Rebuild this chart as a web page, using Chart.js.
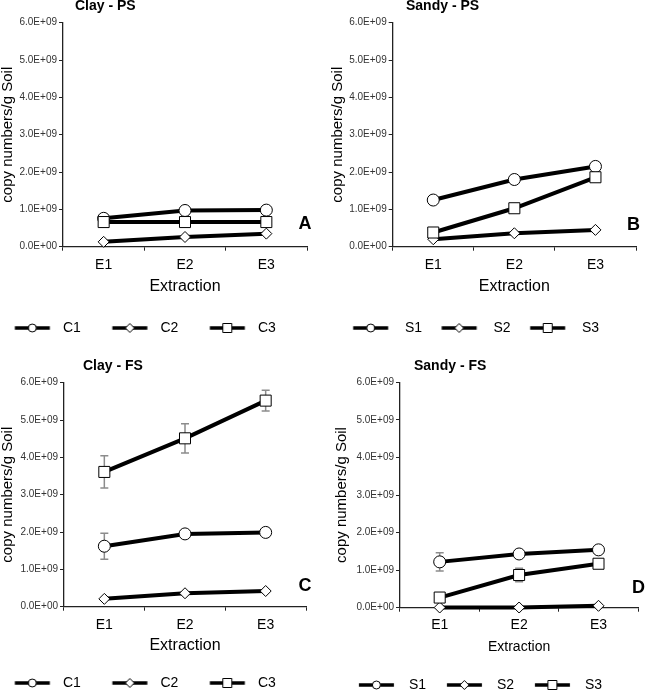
<!DOCTYPE html>
<html><head><meta charset="utf-8">
<script src="https://cdn.jsdelivr.net/npm/chart.js@4.4.1/dist/chart.umd.min.js"></script>
<style>
html,body{margin:0;padding:0;background:#fff;}
#wrap{position:relative;width:647px;height:694px;overflow:hidden;background:#fff;}
canvas{position:absolute;}
</style></head><body>
<div id="wrap">
<canvas id="cA" width="323" height="347" style="left:0;top:0"></canvas>
<canvas id="cB" width="324" height="347" style="left:323px;top:0"></canvas>
<canvas id="cC" width="323" height="347" style="left:0;top:347px"></canvas>
<canvas id="cD" width="324" height="347" style="left:323px;top:347px"></canvas>
</div>
<script>
// ---------- DATA ----------
const categories = ['E1', 'E2', 'E3'];
const yTickLabels = ['0.0E+00', '1.0E+09', '2.0E+09', '3.0E+09', '4.0E+09', '5.0E+09', '6.0E+09'];
const clayLabels = ['C1', 'C2', 'C3'];
const sandyLabels = ['S1', 'S2', 'S3'];
const panelTitles = ['Clay - PS', 'Sandy - PS', 'Clay - FS', 'Sandy - FS'];
const panelLetters = ['A', 'B', 'C', 'D'];
const xAxisTitle = 'Extraction';
const yAxisTitle = 'copy numbers/g Soil';

// Panel A: Clay - PS
const clayPS_C1 = [0.76e9, 0.97e9, 0.98e9];
const clayPS_C2 = [0.13e9, 0.26e9, 0.35e9];
const clayPS_C3 = [0.66e9, 0.66e9, 0.66e9];
// Panel B: Sandy - PS
const sandyPS_S1 = [1.25e9, 1.80e9, 2.15e9];
const sandyPS_S2 = [0.20e9, 0.36e9, 0.45e9];
const sandyPS_S3 = [0.38e9, 1.03e9, 1.86e9];
// Panel C: Clay - FS
const clayFS_C1 = [1.62e9, 1.95e9, 1.99e9];
const clayFS_C2 = [0.21e9, 0.36e9, 0.42e9];
const clayFS_C3 = [3.61e9, 4.51e9, 5.52e9];
const clayFS_C1_err = [0.35e9, 0, 0];
const clayFS_C3_err = [0.43e9, 0.39e9, 0.28e9];
// Panel D: Sandy - FS
const sandyFS_S1 = [1.22e9, 1.43e9, 1.54e9];
const sandyFS_S2 = [0.005e9, 0.005e9, 0.05e9];
const sandyFS_S3 = [0.27e9, 0.87e9, 1.17e9];
const sandyFS_S1_err = [0.24e9, 0, 0];
const sandyFS_S3_err = [0, 0.18e9, 0];

// ---------- STYLE / LAYOUT ----------
const FONT = '"Liberation Sans", Arial, Helvetica, sans-serif';
Chart.defaults.font.family = FONT;
Chart.defaults.color = '#000';
const markerStyles = ['circle', 'rectRot', 'rect'];
const markerRadius = [6, 5.5, 7.8];
const LEG_PAD = 8, LEG_FONT = 14;

const layouts = [
  {W:323,H:347,chartL:63,chartR:307,chartT:22.7,chartB:246.7,yTitleX:8,xTickY:265,xTitleY:287,xTitleSize:16,legendY:328,symStart:15,spacing:97.5,gap:13,titleLeft:75,titleY:6,lx:305,ly:224},
  {W:324,H:347,chartL:69.7,chartR:313,chartT:22.7,chartB:246.7,yTitleX:15,xTickY:265,xTitleY:287,xTitleSize:16,legendY:328,symStart:30,spacing:88.5,gap:17,titleLeft:83,titleY:6,lx:310.5,ly:225},
  {W:323,H:347,chartL:64,chartR:306,chartT:35.7,chartB:259.7,yTitleX:8,xTickY:278,xTitleY:299,xTitleSize:16,legendY:336,symStart:15,spacing:97.5,gap:13,titleLeft:83,titleY:19,lx:305,ly:239},
  {W:324,H:347,chartL:77,chartR:319.7,chartT:35.3,chartB:260.7,yTitleX:19,xTickY:278,xTitleY:300,xTitleSize:14,legendY:338,symStart:36,spacing:88,gap:15,titleLeft:91,titleY:19,lx:315.5,ly:241}
];

const mctx = document.createElement('canvas').getContext('2d');
mctx.font = LEG_FONT + 'px ' + FONT;

function legendImage(styleIdx, boxW, gap) {
  const c = document.createElement('canvas');
  c.width = Math.round(boxW); c.height = 14;
  const g = c.getContext('2d');
  const x1 = boxW + LEG_FONT / 2 - gap, x0 = x1 - 35, cy = 7, cx = (x0 + x1) / 2;
  g.strokeStyle = '#000'; g.lineWidth = 3.5;
  g.beginPath(); g.moveTo(x0, cy); g.lineTo(x1, cy); g.stroke();
  g.fillStyle = '#fff'; g.lineWidth = 1; g.beginPath();
  if (styleIdx === 0) g.arc(cx, cy, 4, 0, Math.PI * 2);
  else if (styleIdx === 1) { g.moveTo(cx, cy - 4.5); g.lineTo(cx + 4.5, cy); g.lineTo(cx, cy + 4.5); g.lineTo(cx - 4.5, cy); g.closePath(); }
  else g.rect(cx - 4.5, cy - 4.5, 9, 9);
  g.fill(); g.stroke();
  return c;
}

const errorBarsPlugin = {
  id: 'errorBars',
  beforeDatasetsDraw(chart) {
    const {ctx, scales: {x, y}} = chart;
    ctx.save();
    ctx.strokeStyle = '#8c8c8c'; ctx.lineWidth = 1.5;
    chart.data.datasets.forEach(ds => {
      if (!ds.errorBars) return;
      ds.data.forEach((v, i) => {
        const e = ds.errorBars[i]; if (!e) return;
        const px = x.getPixelForValue(i);
        const y0 = y.getPixelForValue(v - e), y1 = y.getPixelForValue(v + e);
        ctx.beginPath();
        ctx.moveTo(px, y0); ctx.lineTo(px, y1);
        ctx.moveTo(px - 4, y0); ctx.lineTo(px + 4, y0);
        ctx.moveTo(px - 4, y1); ctx.lineTo(px + 4, y1);
        ctx.stroke();
      });
    });
    ctx.restore();
  }
};

const decorPlugin = {
  id: 'decor',
  afterLayout(chart, args, o) {
    const t = chart.titleBlock;
    if (t) { t.left = o.titleLeft; t.right = o.titleLeft + 250; t.width = 250; t.top = o.titleY - 8.4; t.bottom = t.top + 16.8; }
    const l = chart.legend;
    if (l) {
      const h = l.height;
      l.left = o.legendLeft; l.right = o.legendLeft + 420; l.width = 420;
      l.top = o.legendY - LEG_FONT / 2 - LEG_PAD; l.bottom = l.top + h;
    }
  },
  afterDraw(chart, args, o) {
    const ctx = chart.ctx;
    ctx.save();
    ctx.font = 'bold 18px ' + FONT;
    ctx.fillStyle = '#000'; ctx.textAlign = 'center'; ctx.textBaseline = 'middle';
    ctx.fillText(o.letter, o.lx, o.ly);
    ctx.restore();
  }
};

function buildPanel(canvasId, idx, labels, seriesData, seriesErr) {
  const P = layouts[idx];
  const tw = mctx.measureText(labels[0]).width;
  const boxW = P.spacing - LEG_PAD - LEG_FONT / 2 - tw;
  const imgs = [0, 1, 2].map(k => legendImage(k, boxW, P.gap));
  const legendLeft = P.symStart - (boxW + LEG_FONT / 2 - P.gap - 35) - LEG_PAD;
  const xH = P.xTitleY + P.xTitleSize * 0.6 - P.chartB;
  const legH = LEG_FONT + LEG_PAD + 10;
  const datasets = labels.map((lab, k) => ({
    label: lab,
    data: seriesData[k],
    errorBars: seriesErr[k] || null,
    borderColor: '#000', borderWidth: 4, tension: 0, fill: false, clip: false,
    pointStyle: markerStyles[k], pointRadius: markerRadius[k], pointHoverRadius: markerRadius[k],
    pointBackgroundColor: '#fff', pointBorderColor: '#000', pointBorderWidth: 1,
    order: 3 - k
  }));
  return new Chart(document.getElementById(canvasId), {
    type: 'line',
    data: { labels: categories, datasets },
    plugins: [errorBarsPlugin, decorPlugin],
    options: {
      responsive: false, animation: false, devicePixelRatio: 1, events: [],
      layout: { padding: { top: P.chartT - 16.8, bottom: P.H - P.chartB - xH - legH, left: 0, right: P.W - P.chartR } },
      plugins: {
        tooltip: { enabled: false },
        title: { display: true, text: panelTitles[idx], align: 'start', color: '#000', font: { size: 14, weight: 'bold' }, padding: 0 },
        legend: {
          display: true, position: 'bottom', align: 'start',
          labels: {
            usePointStyle: true, pointStyleWidth: boxW, padding: LEG_PAD,
            font: { size: LEG_FONT }, color: '#000',
            generateLabels: chart => chart.data.datasets.map((ds, i) => ({
              text: ds.label, pointStyle: imgs[i], datasetIndex: i, hidden: false,
              lineWidth: 0, strokeStyle: 'rgba(0,0,0,0)', fillStyle: 'rgba(0,0,0,0)', fontColor: '#000'
            }))
          }
        },
        decor: { titleLeft: P.titleLeft, titleY: P.titleY, legendLeft, legendY: P.legendY, letter: panelLetters[idx], lx: P.lx, ly: P.ly }
      },
      scales: {
        x: {
          offset: true,
          grid: { offset: true, drawOnChartArea: false, drawTicks: true, tickLength: 4, color: '#222', lineWidth: 1 },
          border: { display: true, color: '#222', width: 1.3 },
          ticks: { font: { size: 14 }, color: '#000', padding: P.xTickY - P.chartB - 4 - 8.4, maxRotation: 0, autoSkip: false },
          title: { display: true, text: xAxisTitle, color: '#000', font: { size: P.xTitleSize }, padding: { top: 0, bottom: 0 } },
          afterFit: s => { s.height = xH; }
        },
        y: {
          min: 0, max: 6e9,
          grid: { drawOnChartArea: false, drawTicks: true, tickLength: 4, color: '#222', lineWidth: 1 },
          border: { display: true, color: '#222', width: 1.3 },
          ticks: { stepSize: 1e9, font: { size: 10 }, color: '#333', padding: 2, callback: (v, i) => yTickLabels[i] },
          title: { display: true, text: yAxisTitle, color: '#000', font: { size: 15 }, padding: { top: P.yTitleX - 9, bottom: 0 } },
          afterFit: s => { s.width = P.chartL; }
        }
      }
    }
  });
}

buildPanel('cA', 0, clayLabels, [clayPS_C1, clayPS_C2, clayPS_C3], []);
buildPanel('cB', 1, sandyLabels, [sandyPS_S1, sandyPS_S2, sandyPS_S3], []);
buildPanel('cC', 2, clayLabels, [clayFS_C1, clayFS_C2, clayFS_C3], [clayFS_C1_err, null, clayFS_C3_err]);
buildPanel('cD', 3, sandyLabels, [sandyFS_S1, sandyFS_S2, sandyFS_S3], [sandyFS_S1_err, null, sandyFS_S3_err]);
</script>
</body></html>
